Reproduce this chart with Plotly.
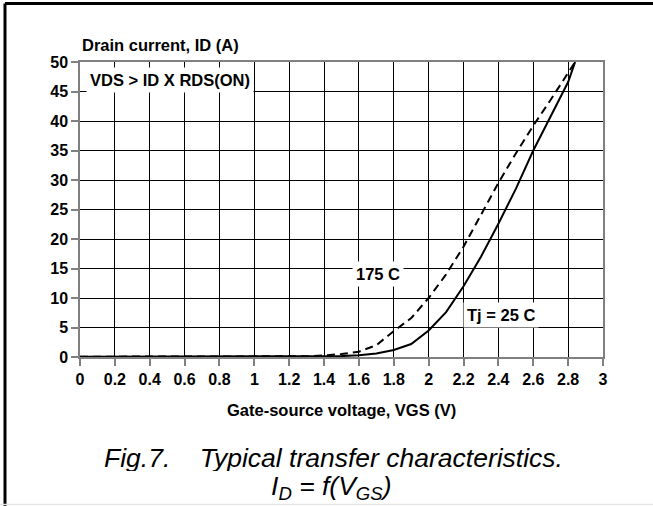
import plotly.graph_objects as go

# Data
vgs_25 = [0.0, 0.4, 0.8, 1.2, 1.4, 1.5, 1.6, 1.7, 1.8, 1.9, 2.0, 2.1, 2.2, 2.3, 2.4, 2.5, 2.6, 2.7, 2.8, 2.84]
id_25 = [0.05, 0.05, 0.05, 0.08, 0.1, 0.15, 0.3, 0.6, 1.2, 2.2, 4.5, 7.6, 12.0, 17.0, 22.6, 28.5, 35.0, 40.8, 46.6, 50.0]

vgs_175 = [0.0, 0.4, 0.8, 1.2, 1.3, 1.4, 1.5, 1.6, 1.7, 1.8, 1.9, 2.0, 2.1, 2.2, 2.3, 2.4, 2.5, 2.6, 2.7, 2.8, 2.84]
id_175 = [0.05, 0.05, 0.05, 0.08, 0.12, 0.25, 0.5, 0.9, 2.0, 4.4, 6.6, 10.0, 14.0, 18.7, 24.2, 29.5, 34.5, 39.2, 43.6, 48.2, 50.0]

x_ticks = [0, 0.2, 0.4, 0.6, 0.8, 1, 1.2, 1.4, 1.6, 1.8, 2, 2.2, 2.4, 2.6, 2.8, 3]
x_tick_labels = ["0", "0.2", "0.4", "0.6", "0.8", "1", "1.2", "1.4", "1.6", "1.8", "2", "2.2", "2.4", "2.6", "2.8", "3"]
y_ticks = [0, 5, 10, 15, 20, 25, 30, 35, 40, 45, 50]

FONT = "Liberation Sans, Arial, sans-serif"

fig = go.Figure()
fig.add_trace(go.Scatter(x=vgs_175, y=id_175, mode="lines", name="175 C",
                         line=dict(color="black", width=2, dash="8px,5px"),
                         cliponaxis=False))
fig.add_trace(go.Scatter(x=vgs_25, y=id_25, mode="lines", name="Tj = 25 C",
                         line=dict(color="black", width=2),
                         cliponaxis=False))

axis_common = dict(showgrid=True, gridcolor="#000000", gridwidth=1,
                   showline=True, linecolor="#808080", linewidth=1.5, mirror=True,
                   ticks="outside", ticklen=7, tickcolor="#808080", tickwidth=1.5,
                   zeroline=False,
                   tickfont=dict(family=FONT, size=16, color="black", weight="bold"))

fig.update_xaxes(range=[0, 3], tickvals=x_ticks, ticktext=x_tick_labels, **axis_common)
fig.update_yaxes(range=[0, 50], tickvals=y_ticks, **axis_common)

def ann(text, x, y, xref="x", yref="y", size=16.5, bg=None, xanchor="center", italic=False, bold=True, pad=1, height=None):
    fig.add_annotation(text=text, x=x, y=y, xref=xref, yref=yref, showarrow=False,
                       xanchor=xanchor, yanchor="middle",
                       bgcolor=bg, borderpad=pad, height=height,
                       font=dict(family=FONT, size=size, color="black",
                                 weight="bold" if bold else "normal",
                                 style="italic" if italic else "normal"))

ann("Drain current, ID (A)", 0.0, 1.0576, xref="paper", yref="paper", xanchor="left")
ann("VDS > ID X RDS(ON)", 0.519, 46.95, bg="white", pad=3)
ann("175 C", 1.707, 14.0, bg="white", pad=3)
ann("Tj = 25 C", 2.413, 7.1, bg="white", pad=3)
ann("Gate-source voltage, VGS (V)", 0.5, (357 - 410) / 295, xref="paper", yref="paper")
ann("Fig.7.    Typical transfer characteristics.", (333.5 - 80) / 523, (357 - 457) / 295,
    xref="paper", yref="paper", size=26.5, italic=True, bold=False, pad=0, height=27)
ann("I<sub>D</sub> = f(V<sub>GS</sub>)", (331 - 80) / 523, (357 - 487) / 295,
    xref="paper", yref="paper", size=26.5, italic=True, bold=False, pad=0, height=27)

# Outer frame (top/left black, bottom light grey)
def px_x(p):
    return (p - 80) / 523

def px_y(q):
    return (357 - q) / 295

fig.add_shape(type="line", xref="paper", yref="paper", x0=px_x(5), x1=px_x(653), y0=px_y(3.5), y1=px_y(3.5),
              line=dict(color="black", width=3))
fig.add_shape(type="line", xref="paper", yref="paper", x0=px_x(5), x1=px_x(5), y0=px_y(3.5), y1=px_y(506),
              line=dict(color="black", width=3))
fig.add_shape(type="line", xref="paper", yref="paper", x0=px_x(0), x1=px_x(653), y0=px_y(504.5), y1=px_y(504.5),
              line=dict(color="#e6e6e6", width=1.5))

fig.update_layout(width=653, height=506, margin=dict(l=80, r=50, t=62, b=149),
                  paper_bgcolor="white", plot_bgcolor="white", showlegend=False,
                  font=dict(family=FONT))

fig.write_html("out.html", config={"displayModeBar": False},
               post_script="document.body.style.margin='0';")
